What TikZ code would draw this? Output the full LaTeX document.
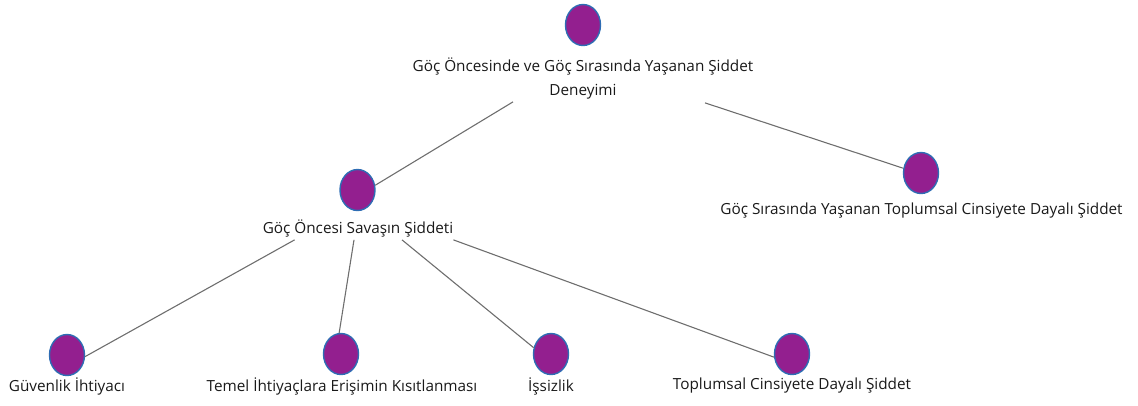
\documentclass[tikz,border=0pt]{standalone}
\usepackage{fontspec}
\setmainfont{Open Sans}
\usetikzlibrary{calc,shapes.geometric}
\definecolor{dotfill}{HTML}{931F8F}
\definecolor{dotline}{HTML}{2E6DB4}
\definecolor{linkgray}{HTML}{6E6E6E}
\begin{document}
\begin{tikzpicture}[x=1pt,y=-1pt,
  dot/.style={ellipse,minimum width=35pt,minimum height=41pt,inner sep=0pt,fill=dotfill,draw=dotline,line width=1.4pt},
  lbl/.style={inner sep=0pt,font=\fontsize{15.3}{24}\selectfont,text=black!90,align=center},
  link/.style={draw=linkgray,line width=1.1pt}]
\useasboundingbox (0,0) rectangle (1138,405);
% circles
\node[dot] (c0) at (583,25) {};
\node[dot] (c1) at (357.5,190) {};
\node[dot] (c2) at (921,173) {};
\node[dot] (c3) at (67,355) {};
\node[dot] (c4) at (341,354) {};
\node[dot] (c5) at (551,354) {};
\node[dot] (c6) at (792,354) {};
% labels
\node[lbl] (t0) at (583,79) {Göç Öncesinde ve Göç Sırasında Yaşanan Şiddet\\Deneyimi};
\node[lbl] (t1) at (358,228) {Göç Öncesi Savaşın Şiddeti};
\node[lbl] (t2) at (921.5,211) {Göç Sırasında Yaşanan Toplumsal Cinsiyete Dayalı Şiddet};
\node[lbl] (t3) at (67,386) {Güvenlik İhtiyacı};
\node[lbl] (t4) at (342,386) {Temel İhtiyaçlara Erişimin Kısıtlanması};
\node[lbl] (t5) at (551,386) {İşsizlik};
\node[lbl] (t6) at (792,386) {Toplumsal Cinsiyete Dayalı Şiddet};
% connectors
\draw[link] ($(t0.south)+(-70,2)$) -- (c1.15);
\draw[link] ($(t0.south)+(122,3)$) -- (c2.165);
\draw[link] ($(t1.south west)+(32,3)$) -- (c3.-5);
\draw[link] ($(t1.south)+(-4,3)$) -- (c4.95);
\draw[link] ($(t1.south)+(44,3)$) -- (c5.160);
\draw[link] ($(t1.south east)+(0,3)$) -- (c6.190);
\end{tikzpicture}
\end{document}
